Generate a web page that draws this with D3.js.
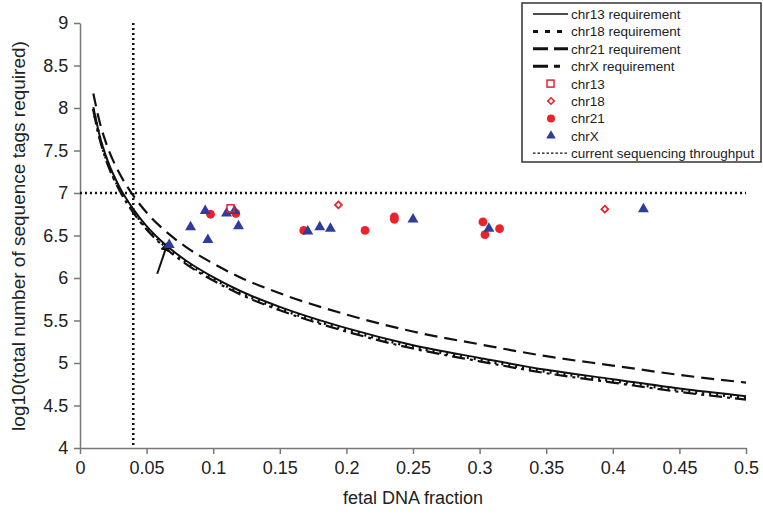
<!DOCTYPE html>
<html>
<head>
<meta charset="utf-8">
<script src="https://cdn.jsdelivr.net/npm/d3@7"></script>
<style>
  body { margin: 0; background: #fff; }
  svg text { font-family: "Liberation Sans", Arial, sans-serif; fill: #222; }
</style>
</head>
<body>
<svg id="chart" width="763" height="515"></svg>
<script>
// curve samples
var fracs = [0.01, 0.015, 0.02, 0.03, 0.04, 0.05, 0.06, 0.08, 0.1, 0.12, 0.15, 0.2, 0.25, 0.3, 0.35, 0.4, 0.45, 0.5];
var req13 = [8.01, 7.66, 7.41, 7.06, 6.81, 6.61, 6.45, 6.20, 6.01, 5.85, 5.66, 5.41, 5.21, 5.06, 4.92, 4.81, 4.70, 4.61];
var req18 = [7.99, 7.64, 7.39, 7.04, 6.79, 6.59, 6.43, 6.18, 5.99, 5.83, 5.64, 5.39, 5.19, 5.04, 4.90, 4.79, 4.68, 4.59];
var req21 = [8.17, 7.82, 7.57, 7.22, 6.97, 6.77, 6.61, 6.36, 6.17, 6.01, 5.82, 5.57, 5.37, 5.22, 5.08, 4.97, 4.86, 4.77];
var reqX  = [7.97, 7.62, 7.37, 7.02, 6.77, 6.57, 6.41, 6.16, 5.97, 5.81, 5.62, 5.37, 5.17, 5.02, 4.88, 4.77, 4.66, 4.57];

// observed samples
var chr13x = [0.113];
var chr13y = [6.82];
var chr18x = [0.194, 0.394];
var chr18y = [6.86, 6.81];
var chr21x = [0.098, 0.117, 0.168, 0.214, 0.236, 0.236, 0.3025, 0.304, 0.315];
var chr21y = [6.75, 6.76, 6.56, 6.56, 6.72, 6.69, 6.66, 6.51, 6.58];
var chrXx = [0.067, 0.083, 0.094, 0.096, 0.110, 0.116, 0.119, 0.171, 0.180, 0.188, 0.25, 0.307, 0.423];
var chrXy = [6.39, 6.60, 6.79, 6.45, 6.76, 6.79, 6.61, 6.55, 6.60, 6.58, 6.69, 6.58, 6.81];

var throughput = 7;
var minFraction = 0.04;

var xTicks = [0, 0.05, 0.1, 0.15, 0.2, 0.25, 0.3, 0.35, 0.4, 0.45, 0.5];
var yTicks = [4, 4.5, 5, 5.5, 6, 6.5, 7, 7.5, 8, 8.5, 9];

var legendLabels = ["chr13 requirement", "chr18 requirement", "chr21 requirement", "chrX requirement",
                    "chr13", "chr18", "chr21", "chrX", "current sequencing throughput"];

var red = "#e8232a", blue = "#2e3c9c";

var svg = d3.select("#chart");
var x = d3.scaleLinear().domain([0, 0.5]).range([80, 746]);
var y = d3.scaleLinear().domain([4, 9]).range([448, 23]);

// axes
var xAxis = svg.append("g").attr("transform", "translate(0,448)")
  .call(d3.axisBottom(x).tickValues(xTicks).tickSize(6).tickSizeOuter(0).tickFormat(d3.format("")));
var yAxis = svg.append("g").attr("transform", "translate(80,0)")
  .call(d3.axisLeft(y).tickValues(yTicks).tickSize(6).tickSizeOuter(0).tickFormat(d3.format("")));
[xAxis, yAxis].forEach(function(a) {
  a.select(".domain").attr("stroke", "#777").attr("stroke-width", 1.5);
  a.selectAll(".tick line").attr("stroke", "#777").attr("stroke-width", 1.5);
  a.selectAll(".tick text").style("font-size", "18px").attr("fill", "#222");
});
xAxis.selectAll(".tick text").attr("dy", "0.95em");
yAxis.selectAll(".tick text").attr("dx", "-0.15em");

svg.append("text").attr("x", 413).attr("y", 504).attr("text-anchor", "middle")
  .style("font-size", "18px").text("fetal DNA fraction");
svg.append("text").attr("transform", "translate(25,236) rotate(-90)").attr("text-anchor", "middle")
  .style("font-size", "19px").text("log10(total number of sequence tags required)");

// reference lines
svg.append("line").attr("x1", x(0)).attr("x2", x(0.5)).attr("y1", y(throughput)).attr("y2", y(throughput))
  .attr("stroke", "#111").attr("stroke-width", 2.5).attr("stroke-dasharray", "2,3");
svg.append("line").attr("x1", x(minFraction)).attr("x2", x(minFraction)).attr("y1", y(9)).attr("y2", y(4))
  .attr("stroke", "#111").attr("stroke-width", 2.5).attr("stroke-dasharray", "2,3");

// requirement curves
var curves = [
  { v: req13, dash: null, w: 2 },
  { v: req18, dash: "2,5", w: 3 },
  { v: req21, dash: "13,7", w: 2.2 },
  { v: reqX, dash: "13,5,3,5", w: 2.2 }
];
var line = d3.line().x(function(d) { return x(d[0]); }).y(function(d) { return y(d[1]); }).curve(d3.curveMonotoneX);
curves.forEach(function(c) {
  svg.append("path").datum(fracs.map(function(f, i) { return [f, c.v[i]]; }))
    .attr("d", line).attr("fill", "none").attr("stroke", "#111")
    .attr("stroke-width", c.w).attr("stroke-dasharray", c.dash);
});

// arrow pointing at the lowest chrX point
svg.append("defs").append("marker").attr("id", "head").attr("viewBox", "0 0 10 10")
  .attr("refX", 9).attr("refY", 5).attr("markerWidth", 5).attr("markerHeight", 5).attr("orient", "auto")
  .append("path").attr("d", "M0,0L10,5L0,10z").attr("fill", "#111");
svg.append("line").attr("x1", x(0.058)).attr("y1", y(6.05)).attr("x2", x(0.066)).attr("y2", y(6.42))
  .attr("stroke", "#111").attr("stroke-width", 2).attr("marker-end", "url(#head)");

// markers
var tri = d3.symbol().type(d3.symbolTriangle).size(52);
function pts(xs, ys) { return xs.map(function(v, i) { return [v, ys[i]]; }); }

svg.selectAll(".c21").data(pts(chr21x, chr21y)).enter().append("circle")
  .attr("cx", function(d) { return x(d[0]); }).attr("cy", function(d) { return y(d[1]); })
  .attr("r", 4.4).attr("fill", red);
svg.selectAll(".cx").data(pts(chrXx, chrXy)).enter().append("path")
  .attr("d", tri).attr("transform", function(d) { return "translate(" + x(d[0]) + "," + y(d[1]) + ")"; })
  .attr("fill", blue);
svg.selectAll(".c13").data(pts(chr13x, chr13y)).enter().append("rect")
  .attr("x", function(d) { return x(d[0]) - 3.5; }).attr("y", function(d) { return y(d[1]) - 3.5; })
  .attr("width", 7).attr("height", 7).attr("fill", "none").attr("stroke", red).attr("stroke-width", 1.5);
svg.selectAll(".c18").data(pts(chr18x, chr18y)).enter().append("path")
  .attr("d", d3.symbol().type(d3.symbolDiamond2).size(30))
  .attr("transform", function(d) { return "translate(" + x(d[0]) + "," + y(d[1]) + ")"; })
  .attr("fill", "none").attr("stroke", red).attr("stroke-width", 1.8);

// legend
var lg = svg.append("g");
lg.append("rect").attr("x", 522).attr("y", 3).attr("width", 239).attr("height", 159)
  .attr("fill", "#fff").attr("stroke", "#333").attr("stroke-width", 1.5);
var rowY = d3.range(legendLabels.length).map(function(i) { return 14 + i * 17.4; });
legendLabels.forEach(function(t, i) {
  lg.append("text").attr("x", 571).attr("y", rowY[i] + 5).style("font-size", "13.5px").text(t);
});
var sampleDash = [null, "5,7", "15,6", "15,6,6,20"];
sampleDash.forEach(function(d, i) {
  lg.append("line").attr("x1", 533).attr("x2", 568).attr("y1", rowY[i]).attr("y2", rowY[i])
    .attr("stroke", "#111").attr("stroke-width", i == 0 ? 1.5 : 3).attr("stroke-dasharray", d);
});
lg.append("rect").attr("x", 547).attr("y", rowY[4] - 3.5).attr("width", 7).attr("height", 7)
  .attr("fill", "none").attr("stroke", red).attr("stroke-width", 1.5);
lg.append("path").attr("d", d3.symbol().type(d3.symbolDiamond2).size(26))
  .attr("transform", "translate(551," + rowY[5] + ")").attr("fill", "none").attr("stroke", red).attr("stroke-width", 1.6);
lg.append("circle").attr("cx", 551).attr("cy", rowY[6]).attr("r", 4).attr("fill", red);
lg.append("path").attr("d", d3.symbol().type(d3.symbolTriangle).size(40))
  .attr("transform", "translate(551," + rowY[7] + ")").attr("fill", blue);
lg.append("line").attr("x1", 533).attr("x2", 569).attr("y1", rowY[8]).attr("y2", rowY[8])
  .attr("stroke", "#111").attr("stroke-width", 1.2).attr("stroke-dasharray", "2.5,2");
</script>
</body>
</html>
